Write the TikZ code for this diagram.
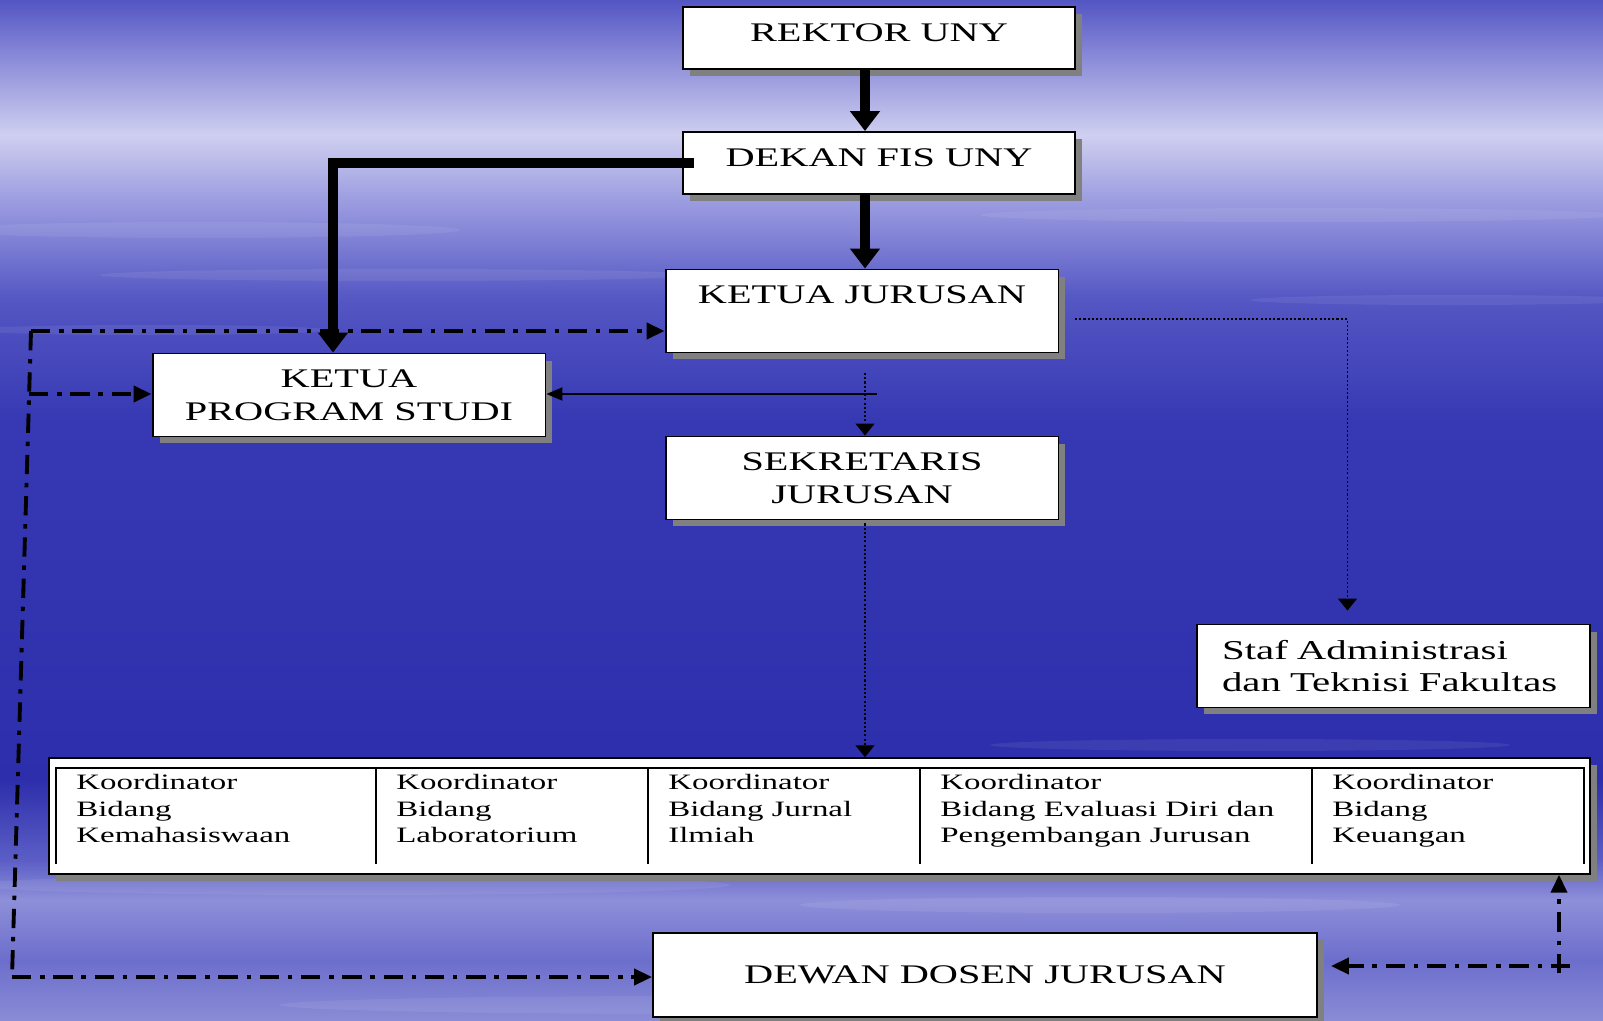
\documentclass[tikz,border=0pt]{standalone}
\usepackage{fontspec}
\setmainfont{Liberation Serif}[FakeStretch=1.5]
\usepackage{tikz}
\usetikzlibrary{calc}
\usetikzlibrary{arrows.meta}
\usetikzlibrary{shadows}
\definecolor{skyA}{HTML}{5355C3}
\definecolor{skyB}{HTML}{8C8DD9}
\definecolor{skyC}{HTML}{CFCFF0}
\definecolor{skyD}{HTML}{9C9DE0}
\definecolor{skyE}{HTML}{5456C3}
\definecolor{skyF}{HTML}{3739B4}
\definecolor{skyG}{HTML}{2D2EAB}
\definecolor{skyH}{HTML}{5C5EC6}
\definecolor{skyI}{HTML}{8E8FD9}
\definecolor{skyJ}{HTML}{6C6ECC}
\definecolor{skyK}{HTML}{8A8CD6}
\tikzset{box/.style = {shape=rectangle,draw,fill=white,line width=1.1pt,align=center,
  font=\fontsize{15.3}{18.6}\selectfont,
  drop shadow={shadow xshift=0.14cm,shadow yshift=-0.14cm,fill=black!50,opacity=1}}}
\tikzset{cell/.style = {anchor=north west,inner sep=0pt,align=left,font=\fontsize{12.5}{15.1}\selectfont}}
\tikzset{main/.style = {line width=5.7pt,-{Triangle[width=0.58cm,length=0.4cm]}}}
\tikzset{plain/.style = {line width=1.1pt,-{Triangle[width=0.26cm,length=0.32cm]}}}
\tikzset{dots/.style = {line width=0.9pt,dash pattern=on 1.2pt off 1.2pt,-{Triangle[width=0.38cm,length=0.24cm]}}}
\tikzset{dashdot/.style = {line width=2.2pt,dash pattern=on 11pt off 5pt on 2.5pt off 5pt}}
\tikzset{ddarrow/.style = {dashdot,-{Triangle[width=0.32cm,length=0.36cm]}}}
\tikzset{streak/.style = {fill=white,opacity=0.07}}

\begin{document}
\begin{tikzpicture}[x=0.02cm,y=-0.02cm]
            \useasboundingbox (0,0) rectangle (1603,1021);
            % Sky
            \shade[top color=skyA,bottom color=skyB] (0,0) rectangle (1603,60);
            \shade[top color=skyB,bottom color=skyC] (0,60) rectangle (1603,135);
            \shade[top color=skyC,bottom color=skyD] (0,135) rectangle (1603,200);
            \shade[top color=skyD,bottom color=skyE] (0,200) rectangle (1603,300);
            \shade[top color=skyE,bottom color=skyF] (0,300) rectangle (1603,420);
            \shade[top color=skyF,bottom color=skyG] (0,420) rectangle (1603,780);
            \shade[top color=skyG,bottom color=skyH] (0,780) rectangle (1603,860);
            \shade[top color=skyH,bottom color=skyI] (0,860) rectangle (1603,900);
            \shade[top color=skyI,bottom color=skyJ] (0,900) rectangle (1603,960);
            \shade[top color=skyJ,bottom color=skyK] (0,960) rectangle (1603,1021);
            % streaks
            \foreach \cx/\cy/\rx/\ry in {200/230/260/8, 1300/215/320/7, 400/275/300/6, 1450/300/200/5,
              150/330/180/5, 1250/745/260/6, 350/885/380/10, 1100/905/300/8, 700/1005/420/9}
              \fill[streak] (\cx,\cy) ellipse [x radius=\rx, y radius=\ry];

            % Boxes
            \node[box,minimum width=7.84cm,minimum height=1.24cm,text depth=0.2cm] (rektor) at (879,38) {REKTOR UNY};
            \node[box,minimum width=7.84cm,minimum height=1.24cm,text depth=0.2cm] (dekan) at (879,163) {DEKAN FIS UNY};
            \node[box,minimum width=7.86cm,minimum height=1.66cm] (kj) at (862,311) {KETUA JURUSAN\\~};
            \node[box,minimum width=7.86cm,minimum height=1.66cm] (kps) at (349,395) {KETUA\\PROGRAM STUDI};
            \node[box,minimum width=7.86cm,minimum height=1.66cm] (sek) at (862,478) {SEKRETARIS\\JURUSAN};
            \node[box,align=left,text width=6.86cm,inner xsep=0.5cm,minimum height=1.66cm,
              font=\fontsize{15.5}{18.6}\selectfont] (staf) at (1393.5,666) {Staf Administrasi\\dan Teknisi Fakultas};
            \node[box,minimum width=13.28cm,minimum height=1.68cm] (dewan) at (985,975) {DEWAN DOSEN JURUSAN};
            \node[box,minimum width=30.82cm,minimum height=2.31cm] (koord) at (819.5,816) {};

            % Koordinator table
            \draw[line width=1.4pt] (56,864) |- (1584,768) -- (1584,864);
            \foreach \x in {376,648,920,1312}
              \draw[line width=1.4pt] (\x,768) -- (\x,864);
            \node[cell] (k1) at (76,774) {Koordinator\\Bidang\\Kemahasiswaan};
            \node[cell] (k2) at (396,774) {Koordinator\\Bidang\\Laboratorium};
            \node[cell] (k3) at (668,774) {Koordinator\\Bidang Jurnal\\Ilmiah};
            \node[cell] (k4) at (940,774) {Koordinator\\Bidang Evaluasi Diri dan\\Pengembangan Jurusan};
            \node[cell] (k5) at (1332,774) {Koordinator\\Bidang\\Keuangan};

            % Edges
            \coordinate (axis) at (865,0);
            \draw[main] (rektor.south -| axis) -- (dekan.north -| axis);
            \draw[main] (dekan.south -| axis) -- (kj.north -| axis);
            \draw[main] ($(dekan.west)+(12,0)$) -| ($(kps.north)+(-16,0)$);

            \coordinate (split) at (877,394);
            \draw[plain] (split) -- (split -| kps.east);

            % dotted
            \coordinate (kjgap) at (865,373);
            \draw[dots] (kjgap) -- (sek.north -| axis);
            \draw[dots] ($(sek.south -| axis)+(0,3)$) -- (koord.north -| axis);
            \coordinate (kjright) at (1075,319);
            \draw[dots,shorten >=0.26cm] (kjright) -| ($(staf.north)+(-46,0)$);

            % dash dot, left
            \coordinate (lt) at (31,331);
            \coordinate (lm) at (29,394);
            \coordinate (lb) at (12,977);
            \draw[dashdot] (lt) -- (lb);
            \draw[ddarrow] (lt) -- (lt -| kj.west);
            \draw[ddarrow] (lm) -- (lm -| kps.west);
            \draw[ddarrow] (lb) -- (lb -| dewan.west);

            % dash dot, right
            \coordinate (rc) at (1559,966);
            \draw[ddarrow] ($(rc)+(0,7)$) -- (rc |- koord.south);
            \draw[ddarrow,shorten >=0.26cm] ($(rc)+(11,0)$) -- (rc -| dewan.east);
        \end{tikzpicture}
\end{document}
